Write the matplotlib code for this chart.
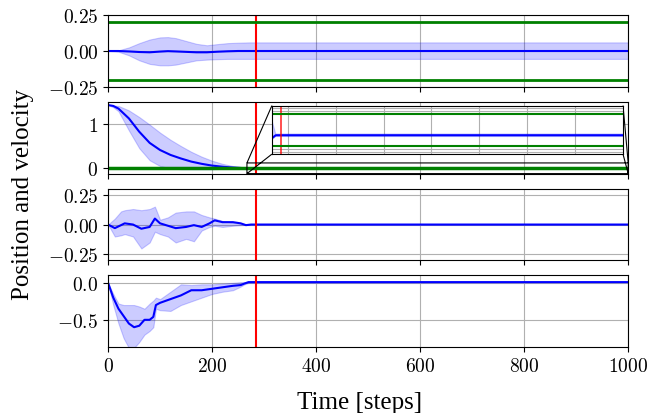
import numpy as np
import matplotlib
matplotlib.use("Agg")
import matplotlib.pyplot as plt

plt.rcParams['font.family'] = 'serif'
plt.rcParams['font.serif'] = ['cmr10']
plt.rcParams['mathtext.fontset'] = 'cm'
plt.rcParams['axes.formatter.use_mathtext'] = True
plt.rcParams['axes.unicode_minus'] = True

# switch step and constraint bounds
t_switch = 285
bound_pos = 0.2
bound_inset = 0.01

# panel 1: position x
p1_t = [0, 20, 40, 60, 80, 100, 115, 130, 150, 170, 190, 210, 230, 250, 270, 1000]
p1_mean = [0, 0.0, -0.003, -0.007, -0.009, -0.004, -0.001, -0.003, -0.006, -0.009, -0.009, -0.005, -0.002, 0, 0, 0]
p1_up = [0, 0.005, 0.025, 0.055, 0.08, 0.095, 0.097, 0.09, 0.07, 0.05, 0.04, 0.048, 0.055, 0.058, 0.06, 0.06]
p1_lo = [0, -0.005, -0.03, -0.065, -0.09, -0.1, -0.1, -0.095, -0.08, -0.065, -0.06, -0.057, -0.055, -0.055, -0.055, -0.055]

# panel 2: position y
p2_t = [0, 10, 20, 40, 60, 80, 100, 120, 140, 160, 180, 200, 220, 240, 260, 268, 275, 1000]
p2_mean = [1.42, 1.40, 1.34, 1.12, 0.82, 0.57, 0.41, 0.30, 0.22, 0.15, 0.10, 0.06, 0.035, 0.016, 0.004, -0.005, -0.0034, -0.0034]
p2_up = [1.42, 1.41, 1.40, 1.30, 1.15, 0.98, 0.80, 0.64, 0.50, 0.37, 0.26, 0.17, 0.10, 0.05, 0.02, 0.005, -0.0026, -0.0026]
p2_lo = [1.42, 1.37, 1.28, 0.85, 0.45, 0.18, 0.05, 0.0, -0.02, -0.02, -0.02, -0.02, -0.01, -0.005, 0.0, -0.006, -0.0042, -0.0042]

# panel 3: velocity x
p3_t = [0, 13, 25, 32, 48, 64, 80, 90, 100, 115, 130, 150, 165, 180, 195, 205, 220, 240, 255, 265, 275, 1000]
p3_mean = [0, -0.03, -0.005, 0.01, 0.0, -0.035, -0.02, 0.05, 0.01, -0.01, -0.03, -0.02, -0.005, -0.02, 0.01, 0.035, 0.02, 0.02, 0.01, -0.005, 0, 0]
p3_up = [0, 0.05, 0.11, 0.12, 0.13, 0.12, 0.13, 0.15, 0.04, 0.06, 0.10, 0.11, 0.11, 0.08, 0.06, 0.05, 0.03, 0.015, 0.008, 0.004, 0, 0]
p3_lo = [0, -0.10, -0.09, -0.08, -0.10, -0.20, -0.15, -0.06, -0.08, -0.10, -0.15, -0.12, -0.14, -0.05, -0.02, -0.01, -0.02, -0.01, -0.005, -0.003, 0, 0]

# panel 4: velocity y
p4_t = [0, 10, 20, 30, 40, 50, 60, 70, 80, 87, 92, 100, 120, 140, 160, 180, 200, 220, 240, 255, 262, 270, 1000]
p4_mean = [0, -0.2, -0.35, -0.45, -0.55, -0.6, -0.58, -0.5, -0.5, -0.46, -0.3, -0.27, -0.22, -0.17, -0.1, -0.1, -0.08, -0.06, -0.04, -0.03, -0.01, 0.01, 0.01]
p4_up = [0, -0.15, -0.28, -0.3, -0.3, -0.3, -0.32, -0.35, -0.28, -0.24, -0.2, -0.22, -0.12, -0.02, -0.03, -0.02, -0.02, -0.01, 0.0, 0.01, 0.01, 0.01, 0.01]
p4_lo = [0, -0.3, -0.55, -0.75, -0.88, -0.88, -0.8, -0.7, -0.65, -0.6, -0.35, -0.37, -0.38, -0.3, -0.25, -0.2, -0.15, -0.12, -0.1, -0.05, -0.02, 0.0, 0.01]

panels = [
  (p1_t, p1_mean, p1_up, p1_lo, (-0.25, 0.25), [-0.25, 0, 0.25]),
  (p2_t, p2_mean, p2_up, p2_lo, (-0.12, 1.49), [0, 1]),
  (p3_t, p3_mean, p3_up, p3_lo, (-0.3, 0.3), [-0.25, 0, 0.25]),
  (p4_t, p4_mean, p4_up, p4_lo, (-0.87, 0.10), [-0.5, 0.0]),
]


def draw_series(ax, t, m, up, lo):
  ax.fill_between(t, lo, up, color='blue', alpha=0.2, linewidth=0.8)
  ax.plot(t, m, color='blue', linewidth=1.5)


fig, axes = plt.subplots(4, 1, sharex=True, figsize=(6.51, 4.14), dpi=100)
fig.subplots_adjust(left=0.166, right=0.965, top=0.961, bottom=0.159, hspace=0.21)

for i, (ax, (t, m, up, lo, ylim, yt)) in enumerate(zip(axes, panels)):
  ax.grid(True, color='#b0b0b0', linewidth=0.8)
  ax.set_axisbelow(True)
  draw_series(ax, t, m, up, lo)
  ax.axvline(t_switch, color='red', linewidth=1.5)
  ax.set_ylim(*ylim)
  ax.set_yticks(yt)
  ax.set_xlim(0, 1000)
  ax.tick_params(labelsize=14)

axes[0].axhline(bound_pos, color='green', linewidth=2)
axes[0].axhline(-bound_pos, color='green', linewidth=2)
axes[1].axhline(0, color='green', linewidth=2.5)
axes[3].set_xticks(np.arange(0, 1001, 200))

# zoomed inset on panel 2
ax2 = axes[1]
axins = ax2.inset_axes([0.315, 0.272, 0.675, 0.677])
draw_series(axins, p2_t, p2_mean, p2_up, p2_lo)
axins.axvline(t_switch, color='red', linewidth=1.3, alpha=0.75)
axins.axhline(bound_inset, color='green', linewidth=1.5)
axins.axhline(-bound_inset, color='green', linewidth=1.5)
axins.set_xlim(267, 1000)
axins.set_ylim(-0.0153, 0.0153)
axins.set_xticks(np.arange(300, 1000, 100))
axins.set_yticks([-0.014, -0.012, 0.012, 0.014])
axins.grid(True, color='#b0b0b0', linewidth=0.8)
axins.set_axisbelow(True)
axins.tick_params(length=0, labelbottom=False, labelleft=False)
ind = ax2.indicate_inset(bounds=[267, -0.12, 733, 0.24], inset_ax=axins,
                         edgecolor='black', alpha=1, linewidth=0.8)
for c in ind.connectors:
  c.set_visible(True)

fig.text(0.035, 0.53, 'Position and velocity', rotation=90, ha='center', va='center',
         fontsize=18, family='Liberation Serif')
fig.text(0.553, 0.027, 'Time [steps]', ha='center', va='center',
         fontsize=18, family='Liberation Serif')

plt.savefig('out.png', dpi=100)
